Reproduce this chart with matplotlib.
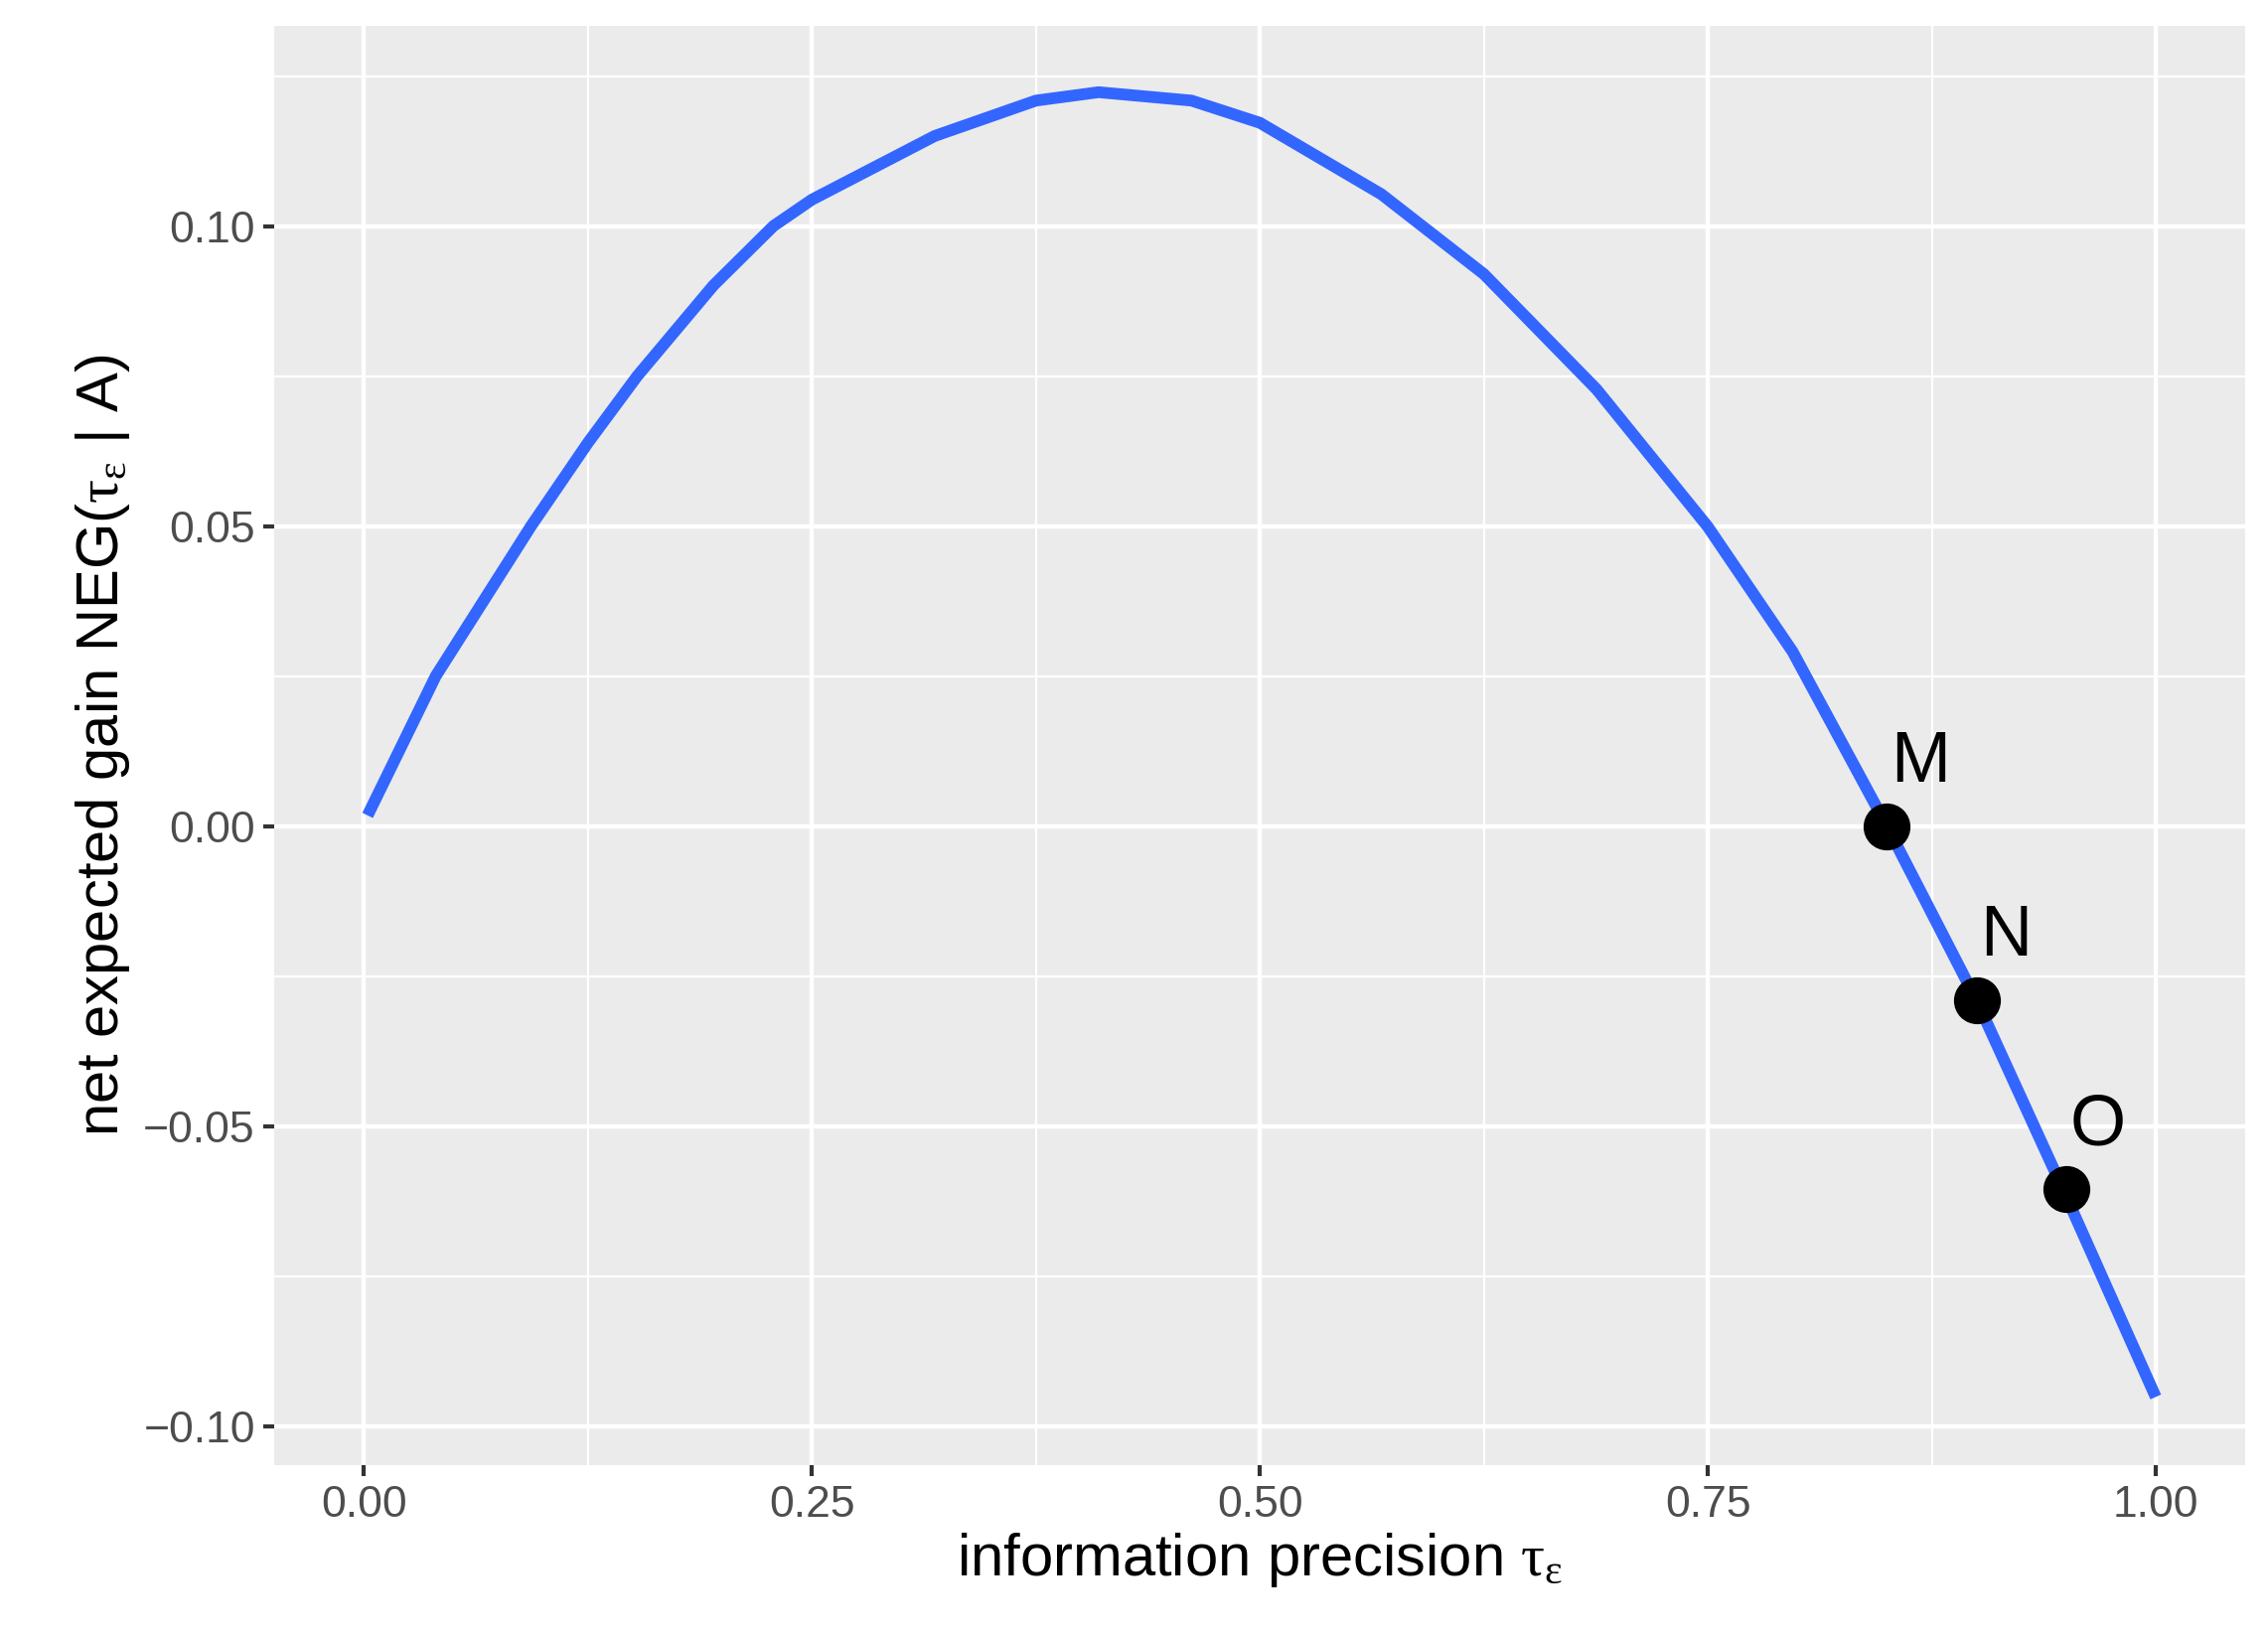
import numpy as np
import matplotlib
matplotlib.use("Agg")
import matplotlib.pyplot as plt
from matplotlib.ticker import MultipleLocator, FuncFormatter

plt.rcParams["font.family"] = ["Liberation Sans", "DejaVu Sans"]
plt.rcParams["mathtext.fontset"] = "custom"
plt.rcParams["mathtext.rm"] = "Liberation Serif"
plt.rcParams["mathtext.it"] = "Liberation Serif"

# curve
tau = [0.002, 0.040, 0.0932, 0.125, 0.1525, 0.195, 0.2285, 0.25, 0.3185, 0.375, 0.41,
       0.4618, 0.5, 0.5678, 0.625, 0.6879, 0.75, 0.7973, 0.85, 0.875, 0.9, 0.949, 1.0]
neg = [0.0018, 0.025, 0.05, 0.0639, 0.075, 0.0901, 0.10, 0.1044, 0.115, 0.1209, 0.1223,
       0.1209, 0.1172, 0.1053, 0.092, 0.0728, 0.0499, 0.0291, 0.0, -0.0145, -0.029, -0.061, -0.0951]
pt_x = [0.85, 0.90, 0.95]
pt_y = [0.0, -0.029, -0.0605]
pt_lab = ["M", "N", "O"]

fig = plt.figure(figsize=(22.83, 16.47), dpi=100)
ax = fig.add_axes([0.121, 0.1043, 0.869, 0.8797])
ax.set_facecolor("#EBEBEB")
for s in ax.spines.values():
    s.set_visible(False)
ax.set_xlim(-0.05, 1.05)
ax.set_ylim(-0.1065, 0.1333)
ax.xaxis.set_major_locator(MultipleLocator(0.25))
ax.xaxis.set_minor_locator(MultipleLocator(0.125))
ax.yaxis.set_major_locator(MultipleLocator(0.05))
ax.yaxis.set_minor_locator(MultipleLocator(0.025))
ax.grid(which="major", color="white", lw=3.2)
ax.grid(which="minor", color="white", lw=1.6)
ax.set_axisbelow(True)
ax.tick_params(which="major", length=8, width=3, color="#333333", labelcolor="#4D4D4D",
               labelsize=32, pad=6)
ax.tick_params(which="minor", length=0)
ax.xaxis.set_major_formatter(FuncFormatter(lambda v, p: f"{v:.2f}"))
ax.yaxis.set_major_formatter(FuncFormatter(lambda v, p: f"{v:.2f}".replace("-", "\u2212")))

ax.plot(tau, neg, color="#3366FF", lw=8.5, solid_capstyle="butt", solid_joinstyle="round", zorder=3)
ax.plot(pt_x, pt_y, "o", color="black", ms=33, zorder=4)
for x, y, l in zip(pt_x, pt_y, pt_lab):
    ax.text(x + 0.002, y + 0.005, l, fontsize=52, ha="left", va="bottom", zorder=5)

ax.set_xlabel(r"information precision $\tau_\varepsilon$", fontsize=43, labelpad=4)
ax.set_ylabel(r"net expected gain NEG($\tau_\varepsilon$ | A)", fontsize=43, labelpad=8)
fig.savefig("out.png", dpi=100)
